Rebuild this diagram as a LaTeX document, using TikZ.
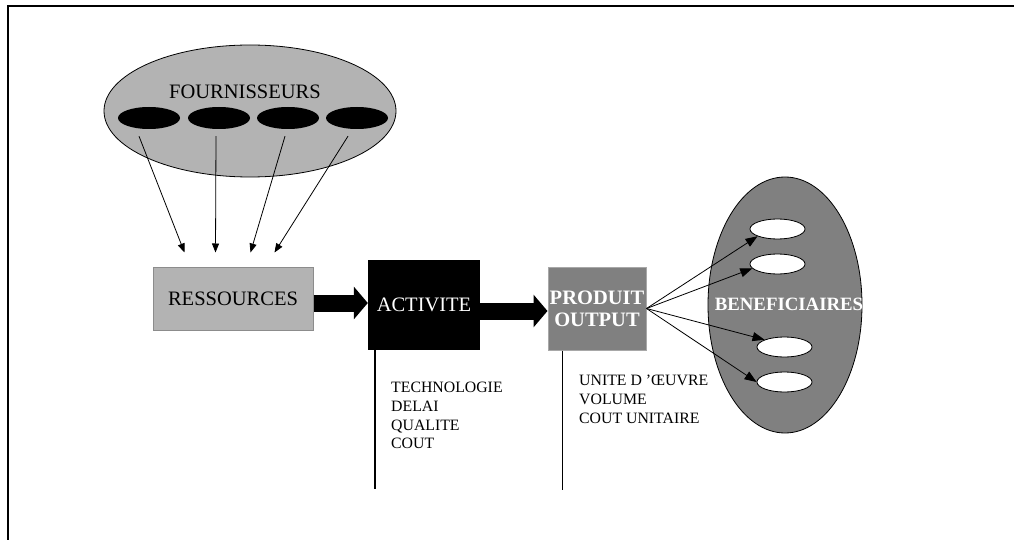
\documentclass[tikz,border=0pt]{standalone}
\usepackage{fontspec}
\setmainfont{Liberation Serif}
\usetikzlibrary{arrows.meta,shapes.geometric,calc}
\definecolor{lightgrey}{HTML}{B3B3B3}
\definecolor{edgegrey}{HTML}{8C8C8C}
\definecolor{midgrey}{HTML}{808080}
\definecolor{paleedge}{HTML}{A8A8A8}
\tikzset{
  bigfont/.style={font=\fontsize{20.5}{24}\selectfont},
  boldfont/.style={font=\bfseries\fontsize{20.5}{22}\selectfont},
  smallfont/.style={font=\fontsize{15.8}{18.7}\selectfont},
  supplier/.style={ellipse, fill=black, minimum width=62pt, minimum height=22pt, inner sep=0pt},
  client/.style={ellipse, draw=black, line width=0.8pt, fill=white, minimum width=55pt, minimum height=20pt, inner sep=0pt},
  feed/.style={line width=0.8pt, -{Triangle[length=9pt,width=7pt]}},
  serve/.style={line width=0.8pt, -{Triangle[length=12pt,width=9pt]}},
  bigarrow/.style={line width=17pt, -{Triangle[length=14pt,width=32pt]}},
  stem/.style={line width=2pt},
}
\begin{document}
\begin{tikzpicture}[x=1pt,y=-1pt]
\useasboundingbox (0,0) rectangle (1014,540);
% page frame
\draw[line width=2pt] (7.7,541) -- (7.7,6) -- (1015,6);

% suppliers
\node[ellipse, draw=black, line width=0.8pt, fill=lightgrey, minimum width=292pt, minimum height=132pt, inner sep=0pt] (four) at (250,111) {};
\node[bigfont] (fourlbl) at (245,92) {FOURNISSEURS};
\node[supplier] (f1) at (149,118) {};
\node[supplier] (f2) at (219,118) {};
\node[supplier] (f3) at (288,118) {};
\node[supplier] (f4) at (357,118) {};

% chain of boxes
\node[draw=edgegrey, line width=1pt, fill=lightgrey, minimum width=160pt, minimum height=63pt, inner sep=0pt, bigfont] (res) at (233,298.5) {RESSOURCES};
\node[fill=black, text=white, minimum width=112pt, minimum height=90pt, inner sep=0pt, bigfont] (act) at (424,305) {ACTIVITE};
\node[draw=paleedge, line width=1pt, fill=midgrey, text=white, minimum width=98pt, minimum height=83pt, inner sep=0pt, align=center, boldfont] (prod) at (597,308.5) {PRODUIT\\OUTPUT};

% beneficiaries
\node[ellipse, draw=black, line width=0.8pt, fill=midgrey, minimum width=154pt, minimum height=256pt, inner sep=0pt] (ben) at (785,305) {};
\node[client] (b1) at (777.5,229) {};
\node[client] (b2) at (777.5,264) {};
\node[client] (b3) at (784.5,347) {};
\node[client] (b4) at (784.5,382) {};
\node[text=white, font=\bfseries\fontsize{18.8}{21}\selectfont] (benlbl) at (789,304) {BENEFICIAIRES};

% supplier arrows into the resources
\draw[feed] ($(f1.south)+(-10,7)$) -- ($(res.north west)+(32,-14)$);
\draw[feed] ($(f2.south)+(-3,7)$) -- ($(res.north west)+(63,-14)$);
\draw[feed] ($(f3.south)+(-3,7)$) -- ($(res.north west)+(98,-14)$);
\draw[feed] ($(f4.south)+(-9,7)$) -- ($(res.north west)+(122,-14)$);

% main flow
\draw[bigarrow] ([yshift=-4.5pt]res.east) -- ([yshift=2pt]act.west);
\draw[bigarrow] ([yshift=-6pt]act.east) -- ([yshift=-2.5pt]prod.west);

% output towards the beneficiaries
\draw[serve] (prod.east) -- (b1.200);
\draw[serve] (prod.east) -- (b2.190);
\draw[serve] (prod.east) -- (b3.160);
\draw[serve] (prod.east) -- (b4.180);

% measurement stems and their lists
\draw[stem] ([xshift=7pt]act.south west) -- ++(0,139);
\draw[stem, line width=1.5pt] ([xshift=15pt]prod.south west) -- ++(0,139);
\node[anchor=north west, inner sep=0pt, align=left, smallfont] (techtxt) at (391,382) {TECHNOLOGIE\\DELAI\\QUALITE\\COUT};
\node[anchor=north west, inner sep=0pt, align=left, smallfont] (unittxt) at (579,375) {UNITE D 'ŒUVRE\\VOLUME\\COUT UNITAIRE};
\end{tikzpicture}
\end{document}
